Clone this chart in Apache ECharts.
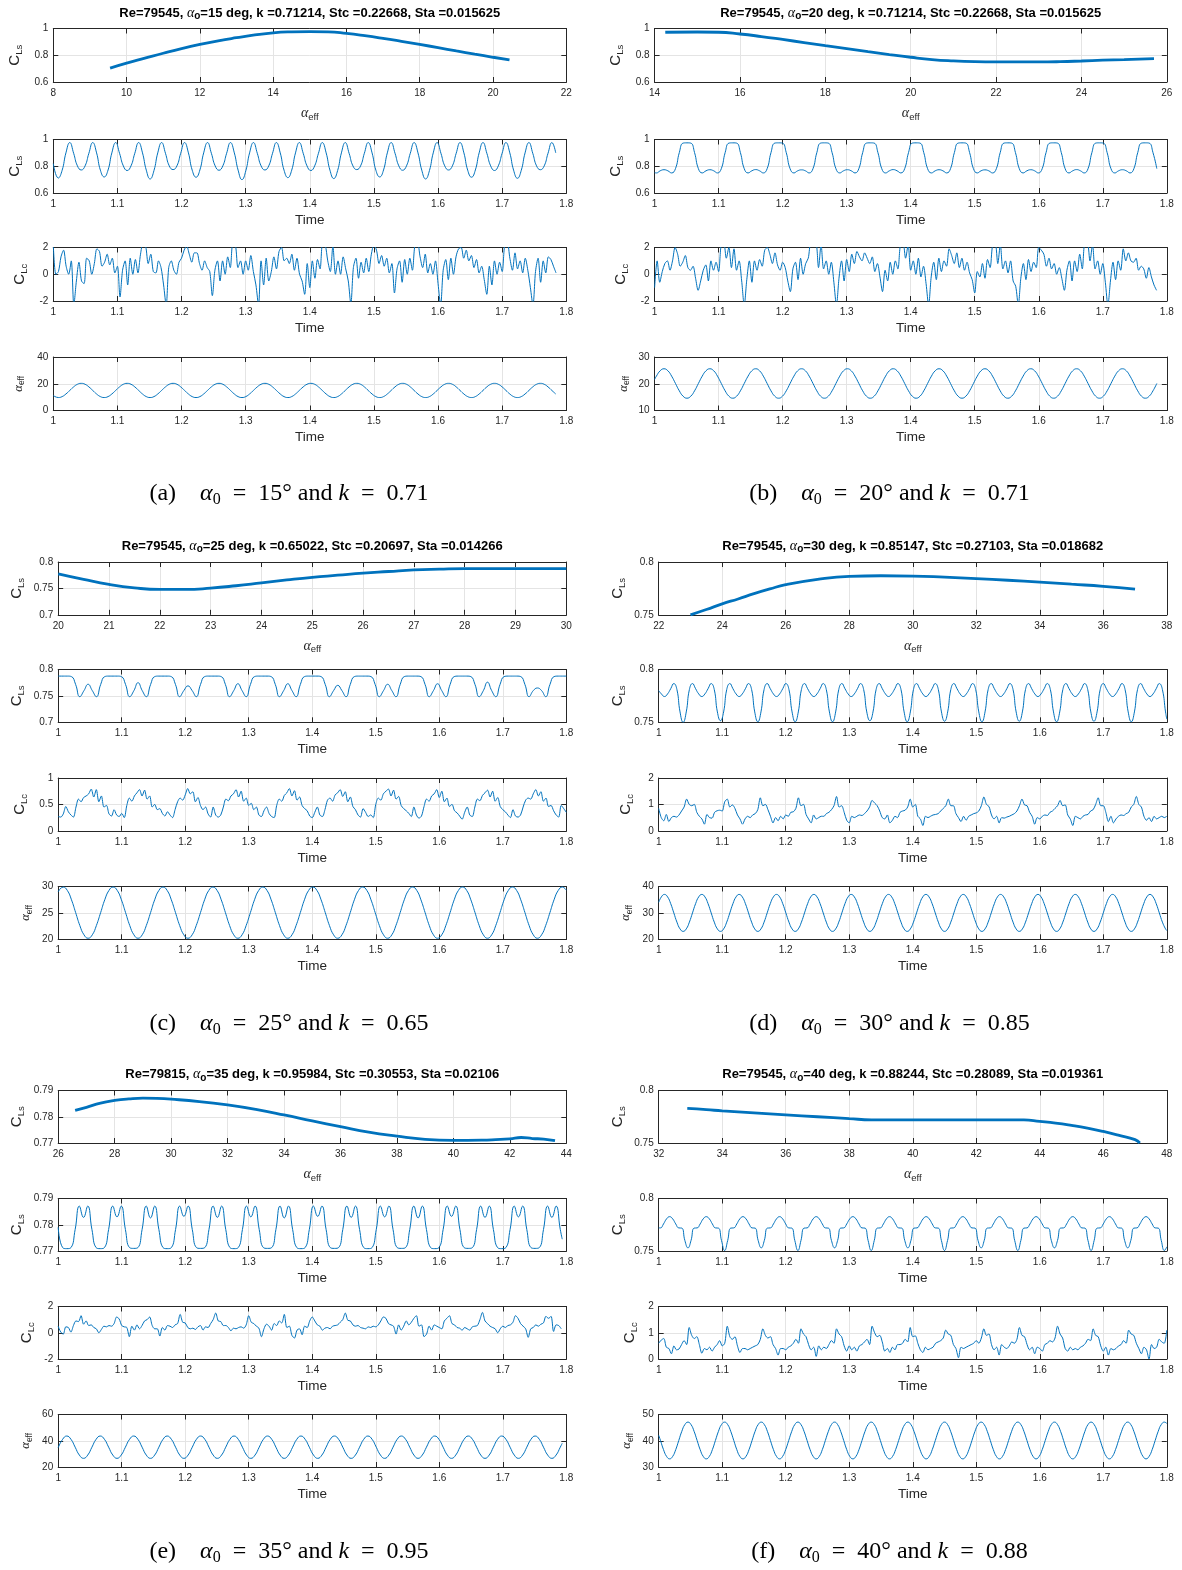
<!DOCTYPE html>
<html><head><meta charset="utf-8">
<script src="https://cdn.jsdelivr.net/npm/echarts@6.0.0/dist/echarts.min.js"></script>
<style>html,body{margin:0;padding:0;background:#fff;}#chart{width:1182px;height:1570px;}</style>
</head><body><div id="chart"></div>
<script>
// ---------- shared sample times of the C_Lc records ----------
const tGrid = [1.000,1.004,1.008,1.012,1.016,1.020,1.024,1.028,1.032,1.036,1.040,1.044,1.048,1.052,1.056,1.060,1.064,1.068,1.072,1.076,1.080,1.084,1.088,1.092,1.096,
1.100,1.104,1.108,1.112,1.116,1.120,1.124,1.128,1.132,1.136,1.140,1.144,1.148,1.152,1.156,1.160,1.164,1.168,1.172,1.176,1.180,1.184,1.188,1.192,1.196,
1.200,1.204,1.208,1.212,1.216,1.220,1.224,1.228,1.232,1.236,1.240,1.244,1.248,1.252,1.256,1.260,1.264,1.268,1.272,1.276,1.280,1.284,1.288,1.292,1.296,
1.300,1.304,1.308,1.312,1.316,1.320,1.324,1.328,1.332,1.336,1.340,1.344,1.348,1.352,1.356,1.360,1.364,1.368,1.372,1.376,1.380,1.384,1.388,1.392,1.396,
1.400,1.404,1.408,1.412,1.416,1.420,1.424,1.428,1.432,1.436,1.440,1.444,1.448,1.452,1.456,1.460,1.464,1.468,1.472,1.476,1.480,1.484,1.488,1.492,1.496,
1.500,1.504,1.508,1.512,1.516,1.520,1.524,1.528,1.532,1.536,1.540,1.544,1.548,1.552,1.556,1.560,1.564,1.568,1.572,1.576,1.580,1.584,1.588,1.592,1.596,
1.600,1.604,1.608,1.612,1.616,1.620,1.624,1.628,1.632,1.636,1.640,1.644,1.648,1.652,1.656,1.660,1.664,1.668,1.672,1.676,1.680,1.684,1.688,1.692,1.696,
1.700,1.704,1.708,1.712,1.716,1.720,1.724,1.728,1.732,1.736,1.740,1.744,1.748,1.752,1.756,1.760,1.764,1.768,1.772,1.776,1.780,1.784,1.788,1.792,1.796,
1.800];
const timeTicks = [1,1.1,1.2,1.3,1.4,1.5,1.6,1.7,1.8];

// ================= panel (a) =================
const aCurveX = [9.55,10,10.5,11,11.5,12,12.5,13,13.5,14,14.5,15,15.5,16,16.5,17,17.5,18,18.5,19,19.5,20,20.45];
const aCurveY = [0.704,0.741,0.778,0.815,0.85,0.881,0.908,0.931,0.952,0.968,0.975,0.977,0.975,0.963,0.946,0.926,0.904,0.881,0.857,0.832,0.808,0.785,0.765];
const aT = [1.0000,
1.0078,1.0138,1.0197,1.0257,1.0317,1.0376,1.0436,1.0496,1.0555,1.0615,1.0675,1.0734,
1.0794,1.0854,1.0913,1.0973,1.1033,1.1092,1.1152,1.1212,1.1271,1.1331,1.1391,1.1450,
1.1510,1.1570,1.1629,1.1689,1.1749,1.1808,1.1868,1.1928,1.1987,1.2047,1.2107,1.2166,
1.2226,1.2286,1.2345,1.2405,1.2465,1.2524,1.2584,1.2644,1.2703,1.2763,1.2823,1.2882,
1.2942,1.3002,1.3061,1.3121,1.3181,1.3240,1.3300,1.3360,1.3419,1.3479,1.3539,1.3598,
1.3658,1.3718,1.3777,1.3837,1.3897,1.3956,1.4016,1.4076,1.4135,1.4195,1.4255,1.4314,
1.4374,1.4434,1.4493,1.4553,1.4613,1.4672,1.4732,1.4792,1.4851,1.4911,1.4971,1.5030,
1.5090,1.5150,1.5209,1.5269,1.5329,1.5388,1.5448,1.5508,1.5567,1.5627,1.5687,1.5746,
1.5806,1.5866,1.5925,1.5985,1.6045,1.6104,1.6164,1.6224,1.6283,1.6343,1.6403,1.6462,
1.6522,1.6582,1.6641,1.6701,1.6761,1.6820,1.6880,1.6940,1.6999,1.7059,1.7119,1.7178,
1.7238,1.7298,1.7357,1.7417,1.7477,1.7536,1.7596,1.7656,1.7715,1.7775,1.7835];
const aAlpha = [11.2,
9.7,10.4,12.35,15,17.65,19.6,20.3,19.6,17.65,15,12.35,10.4,
9.7,10.4,12.35,15,17.65,19.6,20.3,19.6,17.65,15,12.35,10.4,
9.7,10.4,12.35,15,17.65,19.6,20.3,19.6,17.65,15,12.35,10.4,
9.7,10.4,12.35,15,17.65,19.6,20.3,19.6,17.65,15,12.35,10.4,
9.7,10.4,12.35,15,17.65,19.6,20.3,19.6,17.65,15,12.35,10.4,
9.7,10.4,12.35,15,17.65,19.6,20.3,19.6,17.65,15,12.35,10.4,
9.7,10.4,12.35,15,17.65,19.6,20.3,19.6,17.65,15,12.35,10.4,
9.7,10.4,12.35,15,17.65,19.6,20.3,19.6,17.65,15,12.35,10.4,
9.7,10.4,12.35,15,17.65,19.6,20.3,19.6,17.65,15,12.35,10.4,
9.7,10.4,12.35,15,17.65,19.6,20.3,19.6,17.65,15,12.35,10.4,
9.7,10.4,12.35,15,17.65,19.6,20.3,19.6,17.65,15,12.35];
const aCls = [0.82,
0.712,0.770,0.900,0.977,0.897,0.803,0.772,0.803,0.897,0.977,0.900,0.771,
0.720,0.772,0.900,0.977,0.897,0.803,0.768,0.803,0.897,0.977,0.900,0.771,
0.705,0.768,0.900,0.977,0.897,0.803,0.775,0.803,0.897,0.977,0.900,0.771,
0.718,0.772,0.900,0.977,0.897,0.803,0.770,0.803,0.897,0.977,0.900,0.771,
0.700,0.766,0.900,0.977,0.897,0.803,0.772,0.803,0.897,0.977,0.900,0.771,
0.715,0.771,0.900,0.977,0.897,0.803,0.768,0.803,0.897,0.977,0.900,0.771,
0.708,0.768,0.900,0.977,0.897,0.803,0.775,0.803,0.897,0.977,0.900,0.771,
0.720,0.772,0.900,0.977,0.897,0.803,0.770,0.803,0.897,0.977,0.900,0.771,
0.705,0.768,0.900,0.977,0.897,0.803,0.772,0.803,0.897,0.977,0.900,0.771,
0.718,0.772,0.900,0.977,0.897,0.803,0.768,0.803,0.897,0.977,0.900,0.771,
0.710,0.770,0.900,0.977,0.897,0.803,0.774,0.803,0.897,0.977,0.900];
const aClc = [2.2,0.0,0.2,1.3,1.8,0.6,0.0,1.0,-2.3,-0.5,0.9,-0.5,-0.7,1.2,1.0,0.0,0.8,1.9,
1.7,0.6,0.9,1.5,0.7,1.2,0.1,0.6,-1.7,0.3,1.0,-0.8,1.2,0.0,1.1,0.1,1.5,2.3,
2.1,0.8,1.5,0.2,0.1,1.0,0.5,-0.8,-2.3,0.5,1.0,0.3,0.0,0.9,1.2,1.8,2.1,1.5,
0.9,1.6,1.6,0.8,0.3,1.0,0.5,0.2,-1.6,0.3,1.0,-0.5,1.0,0.0,1.3,0.5,2.3,2.2,
0.5,1.0,0.0,1.0,0.3,1.4,0.2,-0.8,-2.3,1.0,-0.8,1.2,-0.5,0.2,1.3,0.4,1.7,2.0,
1.0,1.2,0.8,1.5,0.3,1.2,0.0,-0.5,-1.5,0.8,-1.0,1.0,-0.3,1.1,0.4,2.3,2.2,1.0,
0.2,2.1,0.0,1.0,0.0,1.3,0.4,-0.5,-2.2,0.5,1.2,-0.3,0.9,0.1,1.2,0.2,1.5,2.2,
1.8,0.8,1.4,0.6,1.2,0.1,0.8,-1.4,0.4,1.0,-0.6,1.1,0.0,1.2,0.3,2.2,2.3,
1.3,0.5,1.5,0.1,0.8,0.0,1.0,-0.7,-2.3,0.3,1.1,-0.4,1.2,0.0,1.3,1.9,2.0,1.2,
1.8,1.0,1.4,0.5,1.1,0.1,0.6,-0.4,-1.5,0.6,-0.8,1.0,0.0,0.9,0.2,2.2,2.3,1.2,
0.3,1.6,0.4,1.0,0.1,1.2,0.3,-1.0,-2.3,0.2,1.2,-0.6,1.0,0.1,1.3,1.1,0.6,0.1];
const aX1Ticks = [8,10,12,14,16,18,20,22];
const aY1Ticks = [0.6,0.8,1], aY2Ticks = [0.6,0.8,1], aY3Ticks = [-2,0,2], aY4Ticks = [0,20,40];

// ================= panel (b) =================
const bCurveX = [14.25,15,15.5,16,16.5,17,17.5,18,18.5,19,19.5,20,20.5,21,21.5,22,23,23.5,24,24.5,25,25.7];
const bCurveY = [0.972,0.974,0.972,0.959,0.94,0.918,0.895,0.872,0.85,0.827,0.805,0.785,0.768,0.758,0.752,0.75,0.75,0.752,0.757,0.763,0.768,0.775];
const bT = [1.0000,
1.0028,1.0087,1.0147,1.0207,1.0266,1.0326,1.0386,1.0445,
1.0505,1.0565,1.0624,1.0684,1.0744,1.0803,1.0863,1.0923,1.0982,1.1042,1.1102,1.1161,
1.1221,1.1281,1.1340,1.1400,1.1460,1.1519,1.1579,1.1639,1.1698,1.1758,1.1818,1.1877,
1.1937,1.1997,1.2056,1.2116,1.2176,1.2235,1.2295,1.2355,1.2414,1.2474,1.2534,1.2593,
1.2653,1.2713,1.2772,1.2832,1.2892,1.2951,1.3011,1.3071,1.3130,1.3190,1.3250,1.3309,
1.3369,1.3429,1.3488,1.3548,1.3608,1.3667,1.3727,1.3787,1.3846,1.3906,1.3966,1.4025,
1.4085,1.4145,1.4204,1.4264,1.4324,1.4383,1.4443,1.4503,1.4562,1.4622,1.4682,1.4741,
1.4801,1.4861,1.4920,1.4980,1.5040,1.5099,1.5159,1.5219,1.5278,1.5338,1.5398,1.5457,
1.5517,1.5577,1.5636,1.5696,1.5756,1.5815,1.5875,1.5935,1.5994,1.6054,1.6114,1.6173,
1.6233,1.6293,1.6352,1.6412,1.6472,1.6531,1.6591,1.6651,1.6710,1.6770,1.6830,1.6889,
1.6949,1.7009,1.7068,1.7128,1.7188,1.7247,1.7307,1.7367,1.7426,1.7486,1.7546,1.7605,
1.7665,1.7725,1.7784,1.7844];
const bAlpha = [21.6,
22.85,24.85,25.6,24.85,22.85,20.1,17.35,15.35,
14.6,15.35,17.35,20.1,22.85,24.85,25.6,24.85,22.85,20.1,17.35,15.35,
14.6,15.35,17.35,20.1,22.85,24.85,25.6,24.85,22.85,20.1,17.35,15.35,
14.6,15.35,17.35,20.1,22.85,24.85,25.6,24.85,22.85,20.1,17.35,15.35,
14.6,15.35,17.35,20.1,22.85,24.85,25.6,24.85,22.85,20.1,17.35,15.35,
14.6,15.35,17.35,20.1,22.85,24.85,25.6,24.85,22.85,20.1,17.35,15.35,
14.6,15.35,17.35,20.1,22.85,24.85,25.6,24.85,22.85,20.1,17.35,15.35,
14.6,15.35,17.35,20.1,22.85,24.85,25.6,24.85,22.85,20.1,17.35,15.35,
14.6,15.35,17.35,20.1,22.85,24.85,25.6,24.85,22.85,20.1,17.35,15.35,
14.6,15.35,17.35,20.1,22.85,24.85,25.6,24.85,22.85,20.1,17.35,15.35,
14.6,15.35,17.35,20.1,22.85,24.85,25.6,24.85,22.85,20.1,17.35,15.35,
14.6,15.35,17.35,20.1];
const bCls = [0.752,
0.750,0.766,0.774,0.766,0.750,0.782,0.902,0.973,
0.975,0.973,0.902,0.782,0.750,0.766,0.774,0.766,0.750,0.782,0.902,0.973,
0.975,0.973,0.902,0.782,0.750,0.766,0.775,0.766,0.750,0.782,0.902,0.973,
0.975,0.973,0.902,0.782,0.750,0.766,0.773,0.766,0.750,0.782,0.902,0.973,
0.975,0.973,0.902,0.782,0.750,0.766,0.774,0.766,0.750,0.782,0.902,0.973,
0.975,0.973,0.902,0.782,0.750,0.766,0.775,0.766,0.750,0.782,0.902,0.973,
0.975,0.973,0.902,0.782,0.750,0.766,0.774,0.766,0.750,0.782,0.902,0.973,
0.975,0.973,0.902,0.782,0.750,0.766,0.773,0.766,0.750,0.782,0.902,0.973,
0.975,0.973,0.902,0.782,0.750,0.766,0.774,0.766,0.750,0.782,0.902,0.973,
0.975,0.973,0.902,0.782,0.750,0.766,0.775,0.766,0.750,0.782,0.902,0.973,
0.975,0.973,0.902,0.782,0.750,0.766,0.774,0.766,0.750,0.782,0.902,0.973,
0.975,0.973,0.902,0.782];
const bClc = [-1.0,1.0,-0.6,0.2,0.8,1.0,0.3,1.0,2.0,
1.5,0.6,0.9,1.4,0.5,0.3,0.6,-0.3,-1.2,-0.5,0.3,0.7,-0.5,1.0,0.3,0.9,0.2,2.2,
2.3,1.2,2.0,0.5,1.9,0.3,1.0,-0.5,-2.3,-0.4,1.0,-0.6,1.0,0.3,1.1,0.6,1.8,2.0,
1.5,0.8,1.6,0.7,0.3,0.9,0.5,-0.5,-1.3,0.4,0.9,-0.4,1.2,0.0,0.8,1.2,2.3,2.3,
2.3,0.5,2.2,0.4,1.0,0.0,0.9,-0.6,-2.3,-0.3,1.0,-0.5,1.1,0.2,1.5,0.8,1.7,1.3,
1.0,1.6,1.2,0.8,1.3,0.2,0.8,-0.2,-1.3,0.3,-0.5,0.9,0.0,1.0,0.4,2.2,2.3,1.2,
2.2,0.3,1.0,0.0,1.2,-0.2,0.6,-0.7,-2.3,-0.2,0.9,-0.4,1.2,0.2,1.0,0.6,1.9,1.4,
0.8,1.6,0.5,1.2,0.3,0.9,0.1,-0.4,-1.4,0.2,-0.2,0.8,-0.3,1.1,0.5,2.2,2.3,0.8,
2.2,0.4,1.0,0.1,1.0,-0.5,-0.9,-2.3,-0.3,0.8,-0.4,1.1,0.2,0.9,0.5,2.0,1.8,
1.5,0.6,1.2,0.4,0.8,0.0,0.5,-0.3,-1.2,0.3,1.0,-0.5,1.0,0.2,1.5,0.4,2.3,2.3,
1.0,2.2,0.4,1.0,0.0,0.8,-0.6,-2.3,-0.5,0.9,-0.4,1.0,0.3,1.9,1.0,1.6,1.0,0.9,
1.2,0.3,0.6,0.4,-0.3,0.5,-0.2,-0.8,-1.2];
const bX1Ticks = [14,16,18,20,22,24,26];
const bY1Ticks = [0.6,0.8,1], bY2Ticks = [0.6,0.8,1], bY3Ticks = [-2,0,2], bY4Ticks = [10,20,30];

// ================= panel (c) =================
const cCurveX = [20,20.5,21,21.5,22,22.5,23,23.5,24,24.5,25,25.5,26,26.5,27,27.5,28,29,30];
const cCurveY = [0.7775,0.767,0.7575,0.751,0.748,0.748,0.7505,0.755,0.7605,0.766,0.771,0.775,0.779,0.782,0.785,0.7865,0.7875,0.7875,0.7875];
const cT = [1.0000,
1.0078,1.0144,1.0209,1.0275,1.0340,1.0406,1.0471,1.0537,1.0602,1.0668,1.0733,1.0799,
1.0864,1.0930,1.0995,1.1061,1.1126,1.1192,1.1257,1.1323,1.1388,1.1454,1.1519,1.1585,
1.1650,1.1716,1.1781,1.1847,1.1912,1.1978,1.2043,1.2109,1.2174,1.2240,1.2305,1.2371,
1.2436,1.2502,1.2567,1.2633,1.2698,1.2764,1.2829,1.2895,1.2960,1.3026,1.3091,1.3157,
1.3222,1.3288,1.3353,1.3419,1.3484,1.3550,1.3615,1.3681,1.3746,1.3812,1.3877,1.3943,
1.4008,1.4074,1.4139,1.4205,1.4270,1.4336,1.4401,1.4467,1.4532,1.4598,1.4663,1.4729,
1.4794,1.4860,1.4925,1.4991,1.5056,1.5122,1.5187,1.5253,1.5318,1.5384,1.5449,1.5515,
1.5580,1.5646,1.5711,1.5777,1.5842,1.5908,1.5973,1.6039,1.6104,1.6170,1.6235,1.6301,
1.6366,1.6432,1.6497,1.6563,1.6628,1.6694,1.6759,1.6825,1.6890,1.6956,1.7021,1.7087,
1.7152,1.7218,1.7283,1.7349,1.7414,1.7480,1.7545,1.7611,1.7676,1.7742,1.7807,1.7873,
1.7938,1.8000];
const cAlpha = [29.0,
29.9,29.25,27.48,25.05,22.63,20.85,20.2,20.85,22.63,25.05,27.48,29.25,
29.9,29.25,27.48,25.05,22.63,20.85,20.2,20.85,22.63,25.05,27.48,29.25,
29.9,29.25,27.48,25.05,22.63,20.85,20.2,20.85,22.63,25.05,27.48,29.25,
29.9,29.25,27.48,25.05,22.63,20.85,20.2,20.85,22.63,25.05,27.48,29.25,
29.9,29.25,27.48,25.05,22.63,20.85,20.2,20.85,22.63,25.05,27.48,29.25,
29.9,29.25,27.48,25.05,22.63,20.85,20.2,20.85,22.63,25.05,27.48,29.25,
29.9,29.25,27.48,25.05,22.63,20.85,20.2,20.85,22.63,25.05,27.48,29.25,
29.9,29.25,27.48,25.05,22.63,20.85,20.2,20.85,22.63,25.05,27.48,29.25,
29.9,29.25,27.48,25.05,22.63,20.85,20.2,20.85,22.63,25.05,27.48,29.25,
29.9,29.25,27.48,25.05,22.63,20.85,20.2,20.85,22.63,25.05,27.48,29.25,
29.9,29.3];
const cCls = [0.7875,
0.7875,0.7875,0.7865,0.7714,0.7485,0.760,0.772,0.760,0.7485,0.7714,0.7865,0.7875,
0.7875,0.7875,0.7865,0.7714,0.7485,0.760,0.775,0.760,0.7485,0.7714,0.7865,0.7875,
0.7875,0.7875,0.7865,0.7714,0.7485,0.760,0.769,0.760,0.7485,0.7714,0.7865,0.7875,
0.7875,0.7875,0.7865,0.7714,0.7485,0.760,0.773,0.760,0.7485,0.7714,0.7865,0.7875,
0.7875,0.7875,0.7865,0.7714,0.7485,0.760,0.773,0.760,0.7485,0.7714,0.7865,0.7875,
0.7875,0.7875,0.7865,0.7714,0.7485,0.760,0.770,0.760,0.7485,0.7714,0.7865,0.7875,
0.7875,0.7875,0.7865,0.7714,0.7485,0.760,0.772,0.760,0.7485,0.7714,0.7865,0.7875,
0.7875,0.7875,0.7865,0.7714,0.7485,0.760,0.773,0.760,0.7485,0.7714,0.7865,0.7875,
0.7875,0.7875,0.7865,0.7714,0.7485,0.760,0.776,0.760,0.7485,0.7714,0.7865,0.7875,
0.7875,0.7875,0.7865,0.7714,0.7485,0.760,0.765,0.760,0.7485,0.7714,0.7865,0.7875,
0.7875,0.7875];
const cClc = [0.27,0.26,0.32,0.46,0.36,0.30,0.26,0.45,0.60,0.55,0.63,0.66,0.70,0.79,0.64,0.78,0.55,0.66,0.45,0.48,
0.32,0.28,0.40,0.30,0.27,0.33,0.25,0.48,0.62,0.56,0.66,0.72,0.78,0.66,0.77,0.60,0.66,0.45,0.50,0.40,
0.42,0.33,0.28,0.36,0.30,0.25,0.40,0.55,0.62,0.58,0.68,0.80,0.70,0.74,0.55,0.63,0.48,0.40,0.45,
0.32,0.26,0.45,0.30,0.26,0.30,0.45,0.60,0.57,0.66,0.70,0.78,0.64,0.75,0.56,0.62,0.48,0.52,0.40,0.45,
0.30,0.27,0.38,0.45,0.33,0.27,0.25,0.48,0.60,0.56,0.67,0.72,0.80,0.66,0.76,0.58,0.64,0.48,0.42,0.38,
0.28,0.25,0.35,0.45,0.30,0.27,0.40,0.58,0.62,0.56,0.68,0.72,0.78,0.65,0.74,0.55,0.64,0.46,0.40,
0.30,0.26,0.42,0.35,0.27,0.30,0.25,0.50,0.62,0.58,0.70,0.75,0.79,0.66,0.77,0.60,0.65,0.48,0.42,0.38,
0.33,0.27,0.45,0.30,0.24,0.28,0.46,0.60,0.56,0.66,0.70,0.78,0.63,0.75,0.55,0.62,0.46,0.50,0.38,0.34,
0.28,0.22,0.35,0.45,0.30,0.27,0.45,0.60,0.57,0.67,0.72,0.77,0.64,0.75,0.56,0.63,0.46,0.40,0.36,
0.30,0.25,0.40,0.28,0.26,0.30,0.45,0.58,0.62,0.60,0.70,0.78,0.66,0.74,0.56,0.62,0.46,0.48,0.38,0.30,
0.26,0.48,0.42,0.35];
const cX1Ticks = [20,21,22,23,24,25,26,27,28,29,30];
const cY1Ticks = [0.7,0.75,0.8], cY2Ticks = [0.7,0.75,0.8], cY3Ticks = [0,0.5,1], cY4Ticks = [20,25,30];

// ================= panel (d) =================
const dCurveX = [23,23.5,24,24.5,25,25.5,26,27,28,29,30,31,32,33,34,35,36,37];
const dCurveY = [0.75,0.755,0.7604,0.765,0.77,0.7745,0.7785,0.7835,0.7864,0.787,0.7867,0.7856,0.7842,0.7827,0.781,0.779,0.777,0.7744];
const dT = [1.0000,
1.0042,1.0091,1.0140,1.0189,1.0238,1.0287,1.0336,
1.0385,1.0434,1.0483,1.0532,1.0581,1.0630,1.0679,1.0728,1.0777,1.0826,1.0875,1.0924,
1.0973,1.1022,1.1071,1.1120,1.1169,1.1218,1.1267,1.1316,1.1365,1.1414,1.1463,1.1512,
1.1561,1.1610,1.1659,1.1708,1.1757,1.1806,1.1855,1.1904,1.1953,1.2002,1.2051,1.2100,
1.2149,1.2198,1.2247,1.2296,1.2345,1.2394,1.2443,1.2492,1.2541,1.2590,1.2639,1.2688,
1.2737,1.2786,1.2835,1.2884,1.2933,1.2982,1.3031,1.3080,1.3129,1.3178,1.3227,1.3276,
1.3325,1.3374,1.3423,1.3472,1.3521,1.3570,1.3619,1.3668,1.3717,1.3766,1.3815,1.3864,
1.3913,1.3962,1.4011,1.4060,1.4109,1.4158,1.4207,1.4256,1.4305,1.4354,1.4403,1.4452,
1.4501,1.4550,1.4599,1.4648,1.4697,1.4746,1.4795,1.4844,1.4893,1.4942,1.4991,1.5040,
1.5089,1.5138,1.5187,1.5236,1.5285,1.5334,1.5383,1.5432,1.5481,1.5530,1.5579,1.5628,
1.5677,1.5726,1.5775,1.5824,1.5873,1.5922,1.5971,1.6020,1.6069,1.6118,1.6167,1.6216,
1.6265,1.6314,1.6363,1.6412,1.6461,1.6510,1.6559,1.6608,1.6657,1.6706,1.6755,1.6804,
1.6853,1.6902,1.6951,1.7000,1.7049,1.7098,1.7147,1.7196,1.7245,1.7294,1.7343,1.7392,
1.7441,1.7490,1.7539,1.7588,1.7637,1.7686,1.7735,1.7784,1.7833,1.7882,1.7931,1.7980,
1.8000];
const dAlpha = [34.0,
36.06,37.0,36.06,33.5,30.0,26.5,23.94,
23.0,23.94,26.5,30.0,33.5,36.06,37.0,36.06,33.5,30.0,26.5,23.94,
23.0,23.94,26.5,30.0,33.5,36.06,37.0,36.06,33.5,30.0,26.5,23.94,
23.0,23.94,26.5,30.0,33.5,36.06,37.0,36.06,33.5,30.0,26.5,23.94,
23.0,23.94,26.5,30.0,33.5,36.06,37.0,36.06,33.5,30.0,26.5,23.94,
23.0,23.94,26.5,30.0,33.5,36.06,37.0,36.06,33.5,30.0,26.5,23.94,
23.0,23.94,26.5,30.0,33.5,36.06,37.0,36.06,33.5,30.0,26.5,23.94,
23.0,23.94,26.5,30.0,33.5,36.06,37.0,36.06,33.5,30.0,26.5,23.94,
23.0,23.94,26.5,30.0,33.5,36.06,37.0,36.06,33.5,30.0,26.5,23.94,
23.0,23.94,26.5,30.0,33.5,36.06,37.0,36.06,33.5,30.0,26.5,23.94,
23.0,23.94,26.5,30.0,33.5,36.06,37.0,36.06,33.5,30.0,26.5,23.94,
23.0,23.94,26.5,30.0,33.5,36.06,37.0,36.06,33.5,30.0,26.5,23.94,
23.0,23.94,26.5,30.0,33.5,36.06,37.0,36.06,33.5,30.0,26.5,23.94,
23.0,23.94,26.5,30.0,33.5,36.06,37.0,36.06,33.5,30.0,26.5,23.94,
23.3];
const dCls = [0.780,
0.7769,0.7744,0.7769,0.7818,0.7867,0.781,0.7598,
0.7500,0.7598,0.781,0.7867,0.7818,0.7769,0.7744,0.7769,0.7818,0.7867,0.781,0.7598,
0.7515,0.7598,0.781,0.7867,0.7818,0.7769,0.7744,0.7769,0.7818,0.7867,0.781,0.7598,
0.7505,0.7598,0.781,0.7867,0.7818,0.7769,0.7744,0.7769,0.7818,0.7867,0.781,0.7598,
0.7505,0.7598,0.781,0.7867,0.7818,0.7769,0.7744,0.7769,0.7818,0.7867,0.781,0.7598,
0.7505,0.7598,0.781,0.7867,0.7818,0.7769,0.7744,0.7769,0.7818,0.7867,0.781,0.7598,
0.7515,0.7598,0.781,0.7867,0.7818,0.7769,0.7744,0.7769,0.7818,0.7867,0.781,0.7598,
0.7505,0.7598,0.781,0.7867,0.7818,0.7769,0.7744,0.7769,0.7818,0.7867,0.781,0.7598,
0.7510,0.7598,0.781,0.7867,0.7818,0.7769,0.7744,0.7769,0.7818,0.7867,0.781,0.7598,
0.7505,0.7598,0.781,0.7867,0.7818,0.7769,0.7744,0.7769,0.7818,0.7867,0.781,0.7598,
0.7510,0.7598,0.781,0.7867,0.7818,0.7769,0.7744,0.7769,0.7818,0.7867,0.781,0.7598,
0.7505,0.7598,0.781,0.7867,0.7818,0.7769,0.7744,0.7769,0.7818,0.7867,0.781,0.7598,
0.7510,0.7598,0.781,0.7867,0.7818,0.7769,0.7744,0.7769,0.7818,0.7867,0.781,0.7598,
0.7505,0.7598,0.781,0.7867,0.7818,0.7769,0.7744,0.7769,0.7818,0.7867,0.781,0.7598,
0.753];
const dClc = [0.85,0.50,0.38,0.62,0.35,0.50,0.55,0.52,0.60,0.75,0.90,1.20,1.00,0.95,1.00,
0.70,0.55,0.45,0.25,0.62,0.50,0.48,0.70,0.76,0.78,0.75,1.10,1.20,0.90,0.98,
0.85,0.60,0.45,0.25,0.45,0.55,0.50,0.60,0.65,0.80,1.25,0.95,1.00,0.80,
0.55,0.30,0.50,0.38,0.55,0.45,0.60,0.55,0.70,0.72,0.85,1.25,0.95,1.00,0.62,
0.45,0.30,0.60,0.45,0.50,0.55,0.55,0.65,0.70,0.80,0.95,1.30,0.90,0.95,0.70,
0.40,0.30,0.55,0.50,0.55,0.60,0.58,0.65,0.75,0.90,1.15,1.05,0.95,0.75,
0.50,0.45,0.60,0.30,0.40,0.55,0.50,0.70,0.75,0.78,0.90,1.20,0.90,1.00,0.55,
0.45,0.20,0.55,0.50,0.55,0.60,0.62,0.65,0.75,0.85,0.95,1.20,0.95,0.95,0.65,
0.50,0.35,0.55,0.40,0.55,0.60,0.65,0.68,0.75,0.95,1.28,1.00,0.92,0.60,
0.45,0.55,0.30,0.50,0.48,0.52,0.55,0.60,0.65,0.75,0.95,1.20,0.98,0.95,0.70,
0.55,0.25,0.50,0.45,0.55,0.60,0.58,0.70,0.75,0.85,0.95,1.15,0.95,0.98,0.60,
0.45,0.20,0.55,0.50,0.45,0.55,0.60,0.62,0.75,0.80,1.00,1.25,0.95,0.95,
0.70,0.35,0.55,0.30,0.45,0.55,0.60,0.58,0.65,0.70,0.90,1.00,1.30,1.00,0.90,
0.55,0.40,0.50,0.35,0.55,0.45,0.50,0.55,0.50,0.55];
const dX1Ticks = [22,24,26,28,30,32,34,36,38];
const dY1Ticks = [0.75,0.8], dY2Ticks = [0.75,0.8], dY3Ticks = [0,1,2], dY4Ticks = [20,30,40];

// ================= panel (e) =================
const eCurveX = [26.6,27,27.5,28,28.5,29,29.5,30,31,32,33,34,35,36,37,38,39,40,41,41.5,42,42.4,42.8,43.2,43.6];
const eCurveY = [0.7824,0.7836,0.7852,0.7862,0.7868,0.7871,0.787,0.7867,0.7858,0.7845,0.7828,0.7807,0.7784,0.7762,0.7741,0.7726,0.7714,0.771,0.7711,0.7713,0.7716,0.7721,0.7717,0.7715,0.7709];
const eT = [1.0000,
1.0070,1.0135,1.0201,1.0267,1.0333,
1.0399,1.0465,1.0531,1.0597,1.0662,1.0728,1.0794,1.0860,
1.0926,1.0992,1.1058,1.1124,1.1189,1.1255,1.1321,1.1387,
1.1453,1.1519,1.1585,1.1651,1.1716,1.1782,1.1848,1.1914,
1.1979,1.2045,1.2111,1.2177,1.2242,1.2308,1.2374,1.2440,
1.2506,1.2572,1.2638,1.2704,1.2769,1.2835,1.2901,1.2967,
1.3033,1.3099,1.3165,1.3231,1.3296,1.3362,1.3428,1.3494,
1.3559,1.3625,1.3691,1.3757,1.3822,1.3888,1.3954,1.4020,
1.4086,1.4152,1.4218,1.4284,1.4349,1.4415,1.4481,1.4547,
1.4613,1.4679,1.4745,1.4811,1.4876,1.4942,1.5008,1.5074,
1.5140,1.5206,1.5272,1.5338,1.5403,1.5469,1.5535,1.5601,
1.5666,1.5732,1.5798,1.5864,1.5929,1.5995,1.6061,1.6127,
1.6193,1.6259,1.6325,1.6391,1.6456,1.6522,1.6588,1.6654,
1.6720,1.6786,1.6852,1.6918,1.6983,1.7049,1.7115,1.7181,
1.7246,1.7312,1.7378,1.7444,1.7509,1.7575,1.7641,1.7707,
1.7773,1.7839,1.7905,1.7936];
const eAlpha = [34.7,
41.11,43.6,41.11,35.1,29.09,
26.6,29.09,35.1,41.11,43.6,41.11,35.1,29.09,
26.6,29.09,35.1,41.11,43.6,41.11,35.1,29.09,
26.6,29.09,35.1,41.11,43.6,41.11,35.1,29.09,
26.6,29.09,35.1,41.11,43.6,41.11,35.1,29.09,
26.6,29.09,35.1,41.11,43.6,41.11,35.1,29.09,
26.6,29.09,35.1,41.11,43.6,41.11,35.1,29.09,
26.6,29.09,35.1,41.11,43.6,41.11,35.1,29.09,
26.6,29.09,35.1,41.11,43.6,41.11,35.1,29.09,
26.6,29.09,35.1,41.11,43.6,41.11,35.1,29.09,
26.6,29.09,35.1,41.11,43.6,41.11,35.1,29.09,
26.6,29.09,35.1,41.11,43.6,41.11,35.1,29.09,
26.6,29.09,35.1,41.11,43.6,41.11,35.1,29.09,
26.6,29.09,35.1,41.11,43.6,41.11,35.1,29.09,
26.6,29.09,35.1,41.11,43.6,41.11,35.1,29.09,
26.6,29.09,35.1,38.1];
const eCls = [0.7790,
0.7713,0.7709,0.7713,0.7782,0.7871,
0.7828,0.7871,0.7782,0.7713,0.7709,0.7713,0.7782,0.7871,
0.7830,0.7871,0.7782,0.7713,0.7710,0.7713,0.7782,0.7871,
0.7826,0.7871,0.7782,0.7713,0.7709,0.7713,0.7782,0.7871,
0.7832,0.7871,0.7782,0.7713,0.7710,0.7713,0.7782,0.7871,
0.7828,0.7871,0.7782,0.7713,0.7709,0.7713,0.7782,0.7871,
0.7830,0.7871,0.7782,0.7713,0.7710,0.7713,0.7782,0.7871,
0.7826,0.7871,0.7782,0.7713,0.7709,0.7713,0.7782,0.7871,
0.7832,0.7871,0.7782,0.7713,0.7710,0.7713,0.7782,0.7871,
0.7828,0.7871,0.7782,0.7713,0.7709,0.7713,0.7782,0.7871,
0.7830,0.7871,0.7782,0.7713,0.7710,0.7713,0.7782,0.7871,
0.7826,0.7871,0.7782,0.7713,0.7709,0.7713,0.7782,0.7871,
0.7832,0.7871,0.7782,0.7713,0.7710,0.7713,0.7782,0.7871,
0.7828,0.7871,0.7782,0.7713,0.7709,0.7713,0.7782,0.7871,
0.7830,0.7871,0.7782,0.7713,0.7710,0.7713,0.7782,0.7871,
0.7828,0.7871,0.7782,0.7745];
const eClc = [0.50,0.05,-0.10,0.45,0.40,0.05,0.55,0.90,0.85,1.30,0.65,0.90,0.55,
0.60,0.40,0.30,0.00,0.25,0.50,0.45,0.55,0.50,0.70,1.20,1.05,0.55,
0.45,0.40,-0.30,0.50,0.20,0.60,0.30,0.55,0.90,1.00,1.20,0.55,0.30,
0.30,-0.25,0.40,0.20,0.55,0.50,0.40,0.60,0.70,1.40,0.80,0.75,0.40,0.30,
0.35,0.25,0.45,0.55,0.20,0.45,0.40,0.70,1.00,1.50,0.90,0.85,0.55,
0.55,0.40,0.15,0.35,0.30,0.40,0.45,0.35,0.60,1.30,0.80,0.70,0.50,
0.35,-0.30,0.30,0.65,0.50,0.20,0.70,0.55,0.90,0.75,1.40,0.40,0.50,
-0.20,-0.40,0.20,0.30,-0.15,0.50,0.40,0.90,1.20,0.90,0.60,0.50,0.20,
0.35,0.40,0.30,0.50,0.55,0.60,0.80,1.00,1.50,0.95,0.90,0.60,0.50,
0.55,0.40,0.35,0.30,0.45,0.40,0.50,0.45,0.60,0.90,1.20,1.10,0.70,0.60,
0.50,-0.10,0.60,0.20,0.50,0.90,0.60,0.80,1.10,1.30,0.50,0.60,-0.30,
-0.10,0.50,0.20,0.60,0.50,0.40,0.30,0.90,1.10,1.30,0.70,0.60,0.40,
0.35,0.20,0.40,0.30,0.20,0.45,0.50,0.55,1.00,1.55,0.90,0.70,0.50,
0.40,0.30,0.00,0.30,0.50,0.40,0.55,0.60,0.80,1.30,1.10,0.70,0.50,
0.30,-0.35,0.30,0.40,0.60,0.50,0.65,0.75,1.25,1.10,1.25,0.10,0.60,0.55,0.30];
const eX1Ticks = [26,28,30,32,34,36,38,40,42,44];
const eY1Ticks = [0.77,0.78,0.79], eY2Ticks = [0.77,0.78,0.79], eY3Ticks = [-2,0,2], eY4Ticks = [20,40,60];

// ================= panel (f) =================
const fCurveX = [32.9,33.5,34,35,36,37,38,38.7,39.5,40,41,42,43,43.5,44,44.5,45,45.5,46,46.5,47,47.15];
const fCurveY = [0.7829,0.7818,0.7806,0.7787,0.7768,0.775,0.7732,0.7721,0.772,0.772,0.772,0.772,0.772,0.772,0.7706,0.769,0.7668,0.7642,0.761,0.7573,0.7532,0.75];
const fT = [1.0000,
1.0028,1.0076,1.0124,
1.0172,1.0220,1.0268,1.0316,1.0364,1.0412,1.0461,1.0509,1.0557,1.0605,1.0653,1.0701,
1.0749,1.0797,1.0845,1.0893,1.0941,1.0989,1.1038,1.1086,1.1134,1.1182,1.1230,1.1278,
1.1326,1.1374,1.1422,1.1470,1.1518,1.1566,1.1615,1.1663,1.1711,1.1759,1.1807,1.1855,
1.1903,1.1951,1.1999,1.2047,1.2095,1.2143,1.2192,1.2240,1.2288,1.2336,1.2384,1.2432,
1.2480,1.2528,1.2576,1.2624,1.2672,1.2720,1.2769,1.2817,1.2865,1.2913,1.2961,1.3009,
1.3057,1.3105,1.3153,1.3201,1.3249,1.3297,1.3346,1.3394,1.3442,1.3490,1.3538,1.3586,
1.3634,1.3682,1.3730,1.3778,1.3826,1.3874,1.3923,1.3971,1.4019,1.4067,1.4115,1.4163,
1.4211,1.4259,1.4307,1.4355,1.4403,1.4451,1.4500,1.4548,1.4596,1.4644,1.4692,1.4740,
1.4788,1.4836,1.4884,1.4932,1.4980,1.5028,1.5077,1.5125,1.5173,1.5221,1.5269,1.5317,
1.5365,1.5413,1.5461,1.5509,1.5557,1.5605,1.5654,1.5702,1.5750,1.5798,1.5846,1.5894,
1.5942,1.5990,1.6038,1.6086,1.6134,1.6182,1.6231,1.6279,1.6327,1.6375,1.6423,1.6471,
1.6519,1.6567,1.6615,1.6663,1.6711,1.6759,1.6808,1.6856,1.6904,1.6952,1.7000,1.7048,
1.7096,1.7144,1.7192,1.7240,1.7288,1.7336,1.7385,1.7433,1.7481,1.7529,1.7577,1.7625,
1.7673,1.7721,1.7769,1.7817,1.7865,1.7913,1.7962,
1.8000];
const fAlpha = [42.1,
40.1,36.6,34.04,
33.1,34.04,36.6,40.1,43.6,46.16,47.1,46.16,43.6,40.1,36.6,34.04,
33.1,34.04,36.6,40.1,43.6,46.16,47.1,46.16,43.6,40.1,36.6,34.04,
33.1,34.04,36.6,40.1,43.6,46.16,47.1,46.16,43.6,40.1,36.6,34.04,
33.1,34.04,36.6,40.1,43.6,46.16,47.1,46.16,43.6,40.1,36.6,34.04,
33.1,34.04,36.6,40.1,43.6,46.16,47.1,46.16,43.6,40.1,36.6,34.04,
33.1,34.04,36.6,40.1,43.6,46.16,47.1,46.16,43.6,40.1,36.6,34.04,
33.1,34.04,36.6,40.1,43.6,46.16,47.1,46.16,43.6,40.1,36.6,34.04,
33.1,34.04,36.6,40.1,43.6,46.16,47.1,46.16,43.6,40.1,36.6,34.04,
33.1,34.04,36.6,40.1,43.6,46.16,47.1,46.16,43.6,40.1,36.6,34.04,
33.1,34.04,36.6,40.1,43.6,46.16,47.1,46.16,43.6,40.1,36.6,34.04,
33.1,34.04,36.6,40.1,43.6,46.16,47.1,46.16,43.6,40.1,36.6,34.04,
33.1,34.04,36.6,40.1,43.6,46.16,47.1,46.16,43.6,40.1,36.6,34.04,
33.1,34.04,36.6,40.1,43.6,46.16,47.1,46.16,43.6,40.1,36.6,34.04,
33.1,34.04,36.6,40.1,43.6,46.16,47.1,
46.6];
const fCls = [0.772,
0.772,0.7758,0.7806,
0.7827,0.7806,0.7758,0.772,0.7718,0.760,0.7530,0.760,0.7718,0.772,0.7758,0.7806,
0.7827,0.7806,0.7758,0.772,0.7718,0.760,0.7505,0.760,0.7718,0.772,0.7758,0.7806,
0.7827,0.7806,0.7758,0.772,0.7718,0.760,0.7530,0.760,0.7718,0.772,0.7758,0.7806,
0.7827,0.7806,0.7758,0.772,0.7718,0.760,0.7505,0.760,0.7718,0.772,0.7758,0.7806,
0.7827,0.7806,0.7758,0.772,0.7718,0.760,0.7530,0.760,0.7718,0.772,0.7758,0.7806,
0.7827,0.7806,0.7758,0.772,0.7718,0.760,0.7505,0.760,0.7718,0.772,0.7758,0.7806,
0.7827,0.7806,0.7758,0.772,0.7718,0.760,0.7530,0.760,0.7718,0.772,0.7758,0.7806,
0.7827,0.7806,0.7758,0.772,0.7718,0.760,0.7505,0.760,0.7718,0.772,0.7758,0.7806,
0.7827,0.7806,0.7758,0.772,0.7718,0.760,0.7530,0.760,0.7718,0.772,0.7758,0.7806,
0.7827,0.7806,0.7758,0.772,0.7718,0.760,0.7505,0.760,0.7718,0.772,0.7758,0.7806,
0.7827,0.7806,0.7758,0.772,0.7718,0.760,0.7530,0.760,0.7718,0.772,0.7758,0.7806,
0.7827,0.7806,0.7758,0.772,0.7718,0.760,0.7505,0.760,0.7718,0.772,0.7758,0.7806,
0.7827,0.7806,0.7758,0.772,0.7718,0.760,0.7530,0.760,0.7718,0.772,0.7758,0.7806,
0.7827,0.7806,0.7758,0.772,0.7718,0.760,0.7505,
0.754];
const fClc = [0.60,0.72,0.78,0.45,0.40,0.20,0.50,0.35,0.38,0.55,0.70,0.55,1.20,0.90,0.78,
0.85,0.55,0.22,0.40,0.35,0.45,0.30,0.45,0.55,0.70,0.50,0.60,1.25,0.85,
0.75,0.85,0.50,0.25,0.40,0.40,0.35,0.40,0.45,0.50,0.55,0.75,1.15,0.90,0.80,
0.85,0.55,0.40,0.15,0.40,0.40,0.35,0.45,0.50,0.60,0.75,0.60,1.15,0.95,
0.85,0.55,0.35,0.45,0.10,0.50,0.35,0.45,0.40,0.55,0.70,0.60,1.15,0.95,0.85,
0.50,0.30,0.50,0.35,0.45,0.30,0.50,0.55,0.65,0.75,0.55,1.25,1.00,0.85,
0.90,0.65,0.30,0.40,0.25,0.45,0.35,0.55,0.55,0.60,0.75,0.65,1.20,0.85,0.88,
0.60,0.35,0.25,0.45,0.35,0.40,0.45,0.60,0.65,0.70,0.80,1.10,0.95,0.90,
0.55,0.40,0.05,0.45,0.40,0.45,0.50,0.55,0.60,0.70,0.60,0.80,1.15,0.90,0.95,
0.55,0.35,0.45,0.15,0.55,0.45,0.40,0.50,0.65,0.60,0.75,1.20,0.90,0.85,
0.55,0.35,0.45,0.20,0.45,0.40,0.30,0.55,0.60,0.70,0.65,0.80,1.25,0.95,0.80,
0.40,0.30,0.45,0.35,0.40,0.35,0.45,0.50,0.60,0.75,0.70,1.15,0.90,0.85,
0.50,0.30,0.45,0.15,0.40,0.35,0.40,0.50,0.55,0.70,0.60,1.10,0.95,0.90,0.60,
0.40,0.20,0.45,0.35,0.00,0.55,0.40,0.45,0.75,0.65,0.60,1.10];
const fX1Ticks = [32,34,36,38,40,42,44,46,48];
const fY1Ticks = [0.75,0.8], fY2Ticks = [0.75,0.8], fY3Ticks = [0,1,2], fY4Ticks = [30,40,50];

// ---------- texts ----------
const titleParts = [
 ['Re=79545, ', '=15 deg, k =0.71214, Stc =0.22668, Sta =0.015625'],
 ['Re=79545, ', '=20 deg, k =0.71214, Stc =0.22668, Sta =0.015625'],
 ['Re=79545, ', '=25 deg, k =0.65022, Stc =0.20697, Sta =0.014266'],
 ['Re=79545, ', '=30 deg, k =0.85147, Stc =0.27103, Sta =0.018682'],
 ['Re=79815, ', '=35 deg, k =0.95984, Stc =0.30553, Sta =0.02106'],
 ['Re=79545, ', '=40 deg, k =0.88244, Stc =0.28089, Sta =0.019361']
];
const captionParts = [['(a)','15','0.71'],['(b)','20','0.71'],['(c)','25','0.65'],['(d)','30','0.85'],['(e)','35','0.95'],['(f)','40','0.88']];

// ---------- layout (pixels) ----------
const LAYOUT = [
 {l:53.3, r:566.3, tops:[28.5,139.5,247.5,357], h:53.5, ty:13, cx:289, cy:494, gaps:[29,29,24,27]},
 {l:654.6, r:1166.8, tops:[28.5,139.5,247.5,357], h:53.5, ty:13, cx:889.5, cy:494, gaps:[29,29,24,23]},
 {l:58.2, r:566.3, tops:[562,669.5,778,886.5], h:52.8, ty:546, cx:289, cy:1024, gaps:[32,32,29,24]},
 {l:658.7, r:1166.8, tops:[562,669.5,778,886.5], h:52.8, ty:546, cx:889.5, cy:1024, gaps:[31,31,23,25]},
 {l:58.2, r:566.3, tops:[1090.5,1198.5,1306.5,1414.5], h:52.5, ty:1074.5, cx:289, cy:1552, gaps:[32,32,22,24]},
 {l:658.7, r:1166.8, tops:[1090.5,1198.5,1306.5,1414.5], h:52.5, ty:1074.5, cx:889.5, cy:1552, gaps:[31,31,19,24]}
];

const PANELS = [
 {t:aT, alpha:aAlpha, cls:aCls, clc:aClc, cx:aCurveX, cy:aCurveY, x1:aX1Ticks, y:[aY1Ticks,aY2Ticks,aY3Ticks,aY4Ticks]},
 {t:bT, alpha:bAlpha, cls:bCls, clc:bClc, cx:bCurveX, cy:bCurveY, x1:bX1Ticks, y:[bY1Ticks,bY2Ticks,bY3Ticks,bY4Ticks]},
 {t:cT, alpha:cAlpha, cls:cCls, clc:cClc, cx:cCurveX, cy:cCurveY, x1:cX1Ticks, y:[cY1Ticks,cY2Ticks,cY3Ticks,cY4Ticks]},
 {t:dT, alpha:dAlpha, cls:dCls, clc:dClc, cx:dCurveX, cy:dCurveY, x1:dX1Ticks, y:[dY1Ticks,dY2Ticks,dY3Ticks,dY4Ticks]},
 {t:eT, alpha:eAlpha, cls:eCls, clc:eClc, cx:eCurveX, cy:eCurveY, x1:eX1Ticks, y:[eY1Ticks,eY2Ticks,eY3Ticks,eY4Ticks]},
 {t:fT, alpha:fAlpha, cls:fCls, clc:fClc, cx:fCurveX, cy:fCurveY, x1:fX1Ticks, y:[fY1Ticks,fY2Ticks,fY3Ticks,fY4Ticks]}
];

// ---------- styling ----------
const SANS = '"Liberation Sans", Arial, Helvetica, sans-serif';
const SERIF = '"Liberation Serif", "Times New Roman", serif';
const AXC = '#262626', GRIDC = '#e4e4e4', LINEC = '#0072BD';

const RICH_Y = {
  c:{fontSize:15, fontFamily:SANS, color:AXC, lineHeight:19, fontWeight:'normal'},
  s:{fontSize:9.5, fontFamily:SANS, color:AXC, lineHeight:8, verticalAlign:'bottom', fontWeight:'normal'},
  a:{fontSize:12.5, fontFamily:SERIF, fontStyle:'italic', color:AXC, lineHeight:16, fontWeight:'normal'},
  e:{fontSize:8.5, fontFamily:SANS, color:AXC, lineHeight:6, verticalAlign:'bottom', fontWeight:'normal'}
};
const RICH_X = {
  a:{fontSize:14, fontFamily:SERIF, fontStyle:'italic', color:AXC, lineHeight:17, fontWeight:'normal'},
  e:{fontSize:9.5, fontFamily:SANS, color:AXC, lineHeight:7, verticalAlign:'bottom', fontWeight:'normal'}
};
const RICH_T = {
  t:{fontSize:13, fontWeight:'bold', fontFamily:SANS, color:'#000', lineHeight:17},
  g:{fontSize:14, fontWeight:'normal', fontFamily:SERIF, fontStyle:'italic', color:'#000', lineHeight:17},
  o:{fontSize:10, fontWeight:'bold', fontFamily:SANS, color:'#000', lineHeight:7, verticalAlign:'bottom'}
};
const RICH_C = {
  r:{fontSize:24, fontWeight:'normal', fontFamily:SERIF, color:'#000', lineHeight:28},
  i:{fontSize:24, fontWeight:'normal', fontFamily:SERIF, fontStyle:'italic', color:'#000', lineHeight:28},
  b:{fontSize:16, fontWeight:'normal', fontFamily:SERIF, color:'#000', lineHeight:14, verticalAlign:'bottom'}
};

function fmt(v){ return String(+(+v).toFixed(4)); }
function spec(ticks){ return {min:ticks[0], max:ticks[ticks.length-1], interval:+(ticks[1]-ticks[0]).toFixed(6)}; }
function zip(xs, ys){ const o=[]; for(let i=0;i<ys.length;i++) o.push([xs[i], ys[i]]); return o; }

const option = {animation:false, backgroundColor:'#ffffff', title:[], grid:[], xAxis:[], yAxis:[], series:[]};

function lineCfg(){ return {show:true, onZero:false, lineStyle:{color:AXC, width:1}}; }
function tickCfg(){ return {show:true, inside:true, length:5, lineStyle:{color:AXC, width:1}}; }

function addSub(box, xt, yt, xName, yName, yGap, list){
  const gi = option.grid.length;
  option.grid.push({left:box.l, top:box.t, width:box.w, height:box.h, containLabel:false, outerBoundsMode:'none', show:false});
  const xs = spec(xt), ys = spec(yt);
  const xi = option.xAxis.length;
  option.xAxis.push(Object.assign({type:'value', gridIndex:gi, position:'bottom', axisLine:lineCfg(), axisTick:tickCfg(),
    axisLabel:{show:true, color:AXC, fontSize:10, fontFamily:SANS, margin:6, formatter:fmt, showMinLabel:true, showMaxLabel:true},
    splitLine:{show:true, lineStyle:{color:GRIDC, width:1}},
    name:xName.text, nameLocation:'middle', nameGap:xName.gap, nameTextStyle:xName.style}, xs));
  option.xAxis.push(Object.assign({type:'value', gridIndex:gi, position:'top', axisLine:lineCfg(), axisTick:tickCfg(),
    axisLabel:{show:false}, splitLine:{show:false}}, xs));
  const yi = option.yAxis.length;
  option.yAxis.push(Object.assign({type:'value', gridIndex:gi, position:'left', axisLine:lineCfg(), axisTick:tickCfg(),
    axisLabel:{show:true, color:AXC, fontSize:10, fontFamily:SANS, margin:5, formatter:fmt, showMinLabel:true, showMaxLabel:true},
    splitLine:{show:true, lineStyle:{color:GRIDC, width:1}},
    name:yName, nameLocation:'middle', nameRotate:90, nameGap:yGap, nameTextStyle:{rich:RICH_Y, color:AXC}}, ys));
  option.yAxis.push(Object.assign({type:'value', gridIndex:gi, position:'right', axisLine:lineCfg(), axisTick:tickCfg(),
    axisLabel:{show:false}, splitLine:{show:false}}, ys));
  list.forEach(s => option.series.push({type:'line', xAxisIndex:xi, yAxisIndex:yi, data:s.data, symbol:'none', showSymbol:false,
    smooth:s.smooth, lineStyle:{color:LINEC, width:s.width}, itemStyle:{color:LINEC}, clip:true, silent:true, animation:false}));
}

const timeName = {text:'Time', gap:20, style:{fontSize:13.5, fontFamily:SANS, color:AXC}};
const alphaName = {text:'{a|α}{e|eff}', gap:23, style:{rich:RICH_X, color:AXC}};

PANELS.forEach((p, k) => {
  const L = LAYOUT[k];
  const w = L.r - L.l;
  const box = i => ({l:L.l, t:L.tops[i], w:w, h:L.h});
  addSub(box(0), p.x1, p.y[0], alphaName, '{c|C}{s|Ls}', L.gaps[0], [{data:zip(p.cx, p.cy), smooth:true, width:2.8}]);
  addSub(box(1), timeTicks, p.y[1], timeName, '{c|C}{s|Ls}', L.gaps[1], [{data:zip(p.t, p.cls), smooth:true, width:1}]);
  addSub(box(2), timeTicks, p.y[2], timeName, '{c|C}{s|Lc}', L.gaps[2], [{data:zip(tGrid, p.clc), smooth:0.3, width:1}]);
  addSub(box(3), timeTicks, p.y[3], timeName, '{a|α}{e|eff}', L.gaps[3], [{data:zip(p.t, p.alpha), smooth:true, width:1}]);
  const tp = titleParts[k];
  option.title.push({text:'{t|' + tp[0] + '}{g|α}{o|o}{t|' + tp[1] + '}', left:L.l + w/2, top:L.ty - 8.5, textAlign:'center', padding:0,
    textStyle:{rich:RICH_T, fontSize:13, fontWeight:'bold', color:'#000'}});
  const cp = captionParts[k];
  option.title.push({text:'{r|' + cp[0] + '\u2002\u2002}{i|α}{b|0}{r|\u2002=\u2002' + cp[1] + '° and }{i|k}{r|\u2002=\u2002' + cp[2] + '}',
    left:L.cx, top:L.cy - 14, textAlign:'center', padding:0,
    textStyle:{rich:RICH_C, fontSize:24, fontWeight:'normal', color:'#000'}});
});

const chart = echarts.init(document.getElementById('chart'), null, {renderer:'canvas', width:1182, height:1570});
chart.setOption(option);
</script></body></html>
